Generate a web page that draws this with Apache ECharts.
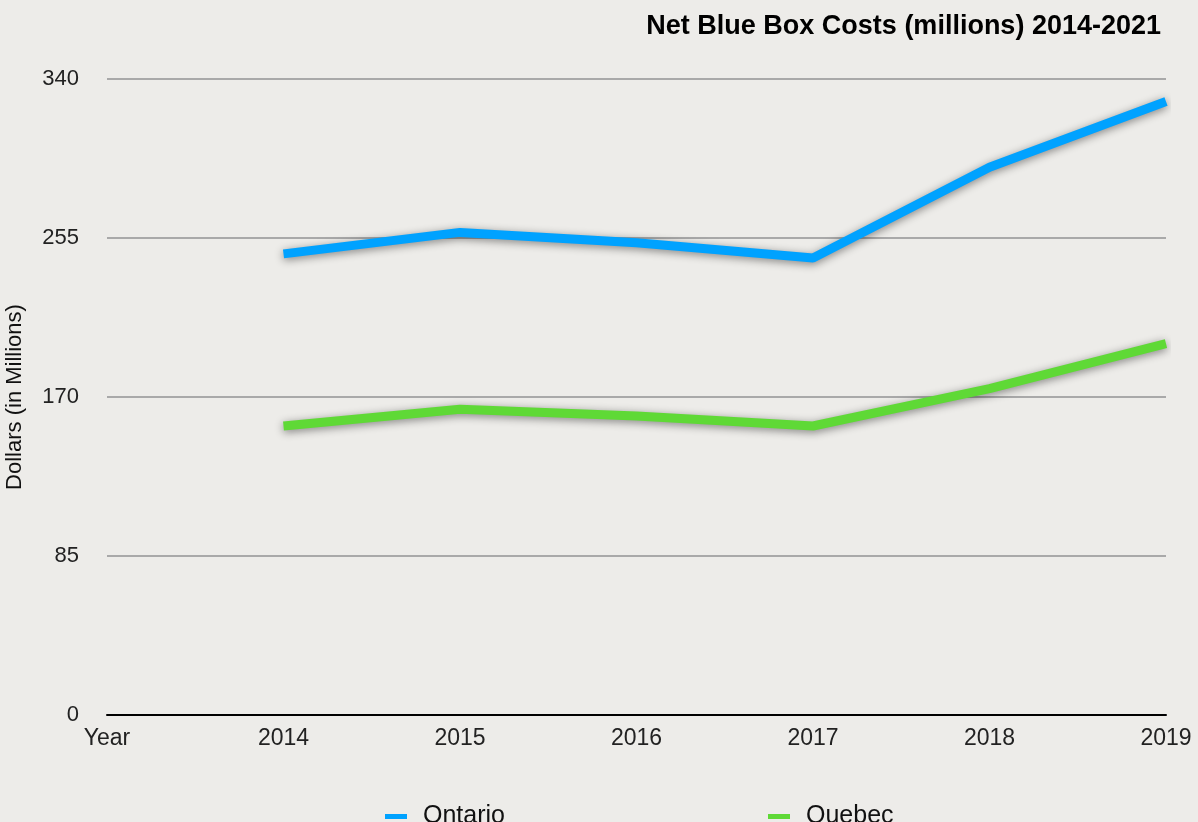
<!DOCTYPE html>
<html><head><meta charset="utf-8">
<script src="https://cdn.jsdelivr.net/npm/echarts@6/dist/echarts.min.js"></script>
<style>html,body{margin:0;padding:0;background:#edece9;}#c{width:1198px;height:822px;}</style>
</head><body><div id="c"></div>
<script>
const categories = ['Year', '2014', '2015', '2016', '2017', '2018', '2019'];
const ontario = [null, 246.5, 258, 252.5, 244.3, 292.8, 328];
const quebec = [null, 154.5, 163.5, 159.8, 154.5, 174.5, 198.5];
const yTicks = [0, 85, 170, 255, 340];
const titleText = 'Net Blue Box Costs (millions) 2014-2021';
const yName = 'Dollars (in Millions)';

const FONT = '"Liberation Sans", Arial, Helvetica, sans-serif';
const chart = echarts.init(document.getElementById('c'));
const shadow = { shadowColor: 'rgba(0,0,0,0.45)', shadowBlur: 8, shadowOffsetY: 2 };
const legendText = { fontFamily: FONT, fontSize: 25, color: '#111', padding: [0, 0, 0, 11] };
chart.setOption({
  backgroundColor: '#edece9',
  animation: false,
  title: {
    text: titleText, right: 32, top: 8,
    textStyle: { fontFamily: FONT, fontSize: 27, fontWeight: 'bold', color: '#000' }
  },
  legend: [
    { data: ['Ontario'], left: 380, top: 799, itemWidth: 22, itemHeight: 5, icon: 'rect', textStyle: legendText },
    { data: ['Quebec'], left: 763, top: 799, itemWidth: 22, itemHeight: 5, icon: 'rect', textStyle: legendText }
  ],
  grid: { left: 107, right: 32, top: 79, bottom: 107, containLabel: false, outerBoundsMode: 'none' },
  xAxis: {
    type: 'category', data: categories, boundaryGap: false,
    axisLine: { lineStyle: { color: '#000', width: 2 } },
    axisTick: { show: false },
    axisLabel: { interval: 0, margin: 12, fontFamily: FONT, fontSize: 23, color: '#222' }
  },
  yAxis: {
    type: 'value', min: yTicks[0], max: yTicks[yTicks.length - 1], interval: 85,
    name: yName, nameLocation: 'middle', nameGap: 81, nameRotate: 90,
    nameTextStyle: { fontFamily: FONT, fontSize: 22, color: '#111' },
    axisLine: { show: false }, axisTick: { show: false },
    axisLabel: { margin: 28, fontFamily: FONT, fontSize: 22, color: '#222' },
    splitLine: { lineStyle: { color: '#a9a9a9', width: 2 } }
  },
  series: [
    { name: 'Ontario', type: 'line', data: ontario, symbol: 'none', color: '#00a2ff',
      lineStyle: Object.assign({ width: 9, color: '#00a2ff' }, shadow) },
    { name: 'Quebec', type: 'line', data: quebec, symbol: 'none', color: '#5fd936',
      lineStyle: Object.assign({ width: 9, color: '#5fd936' }, shadow) }
  ]
});
</script></body></html>
